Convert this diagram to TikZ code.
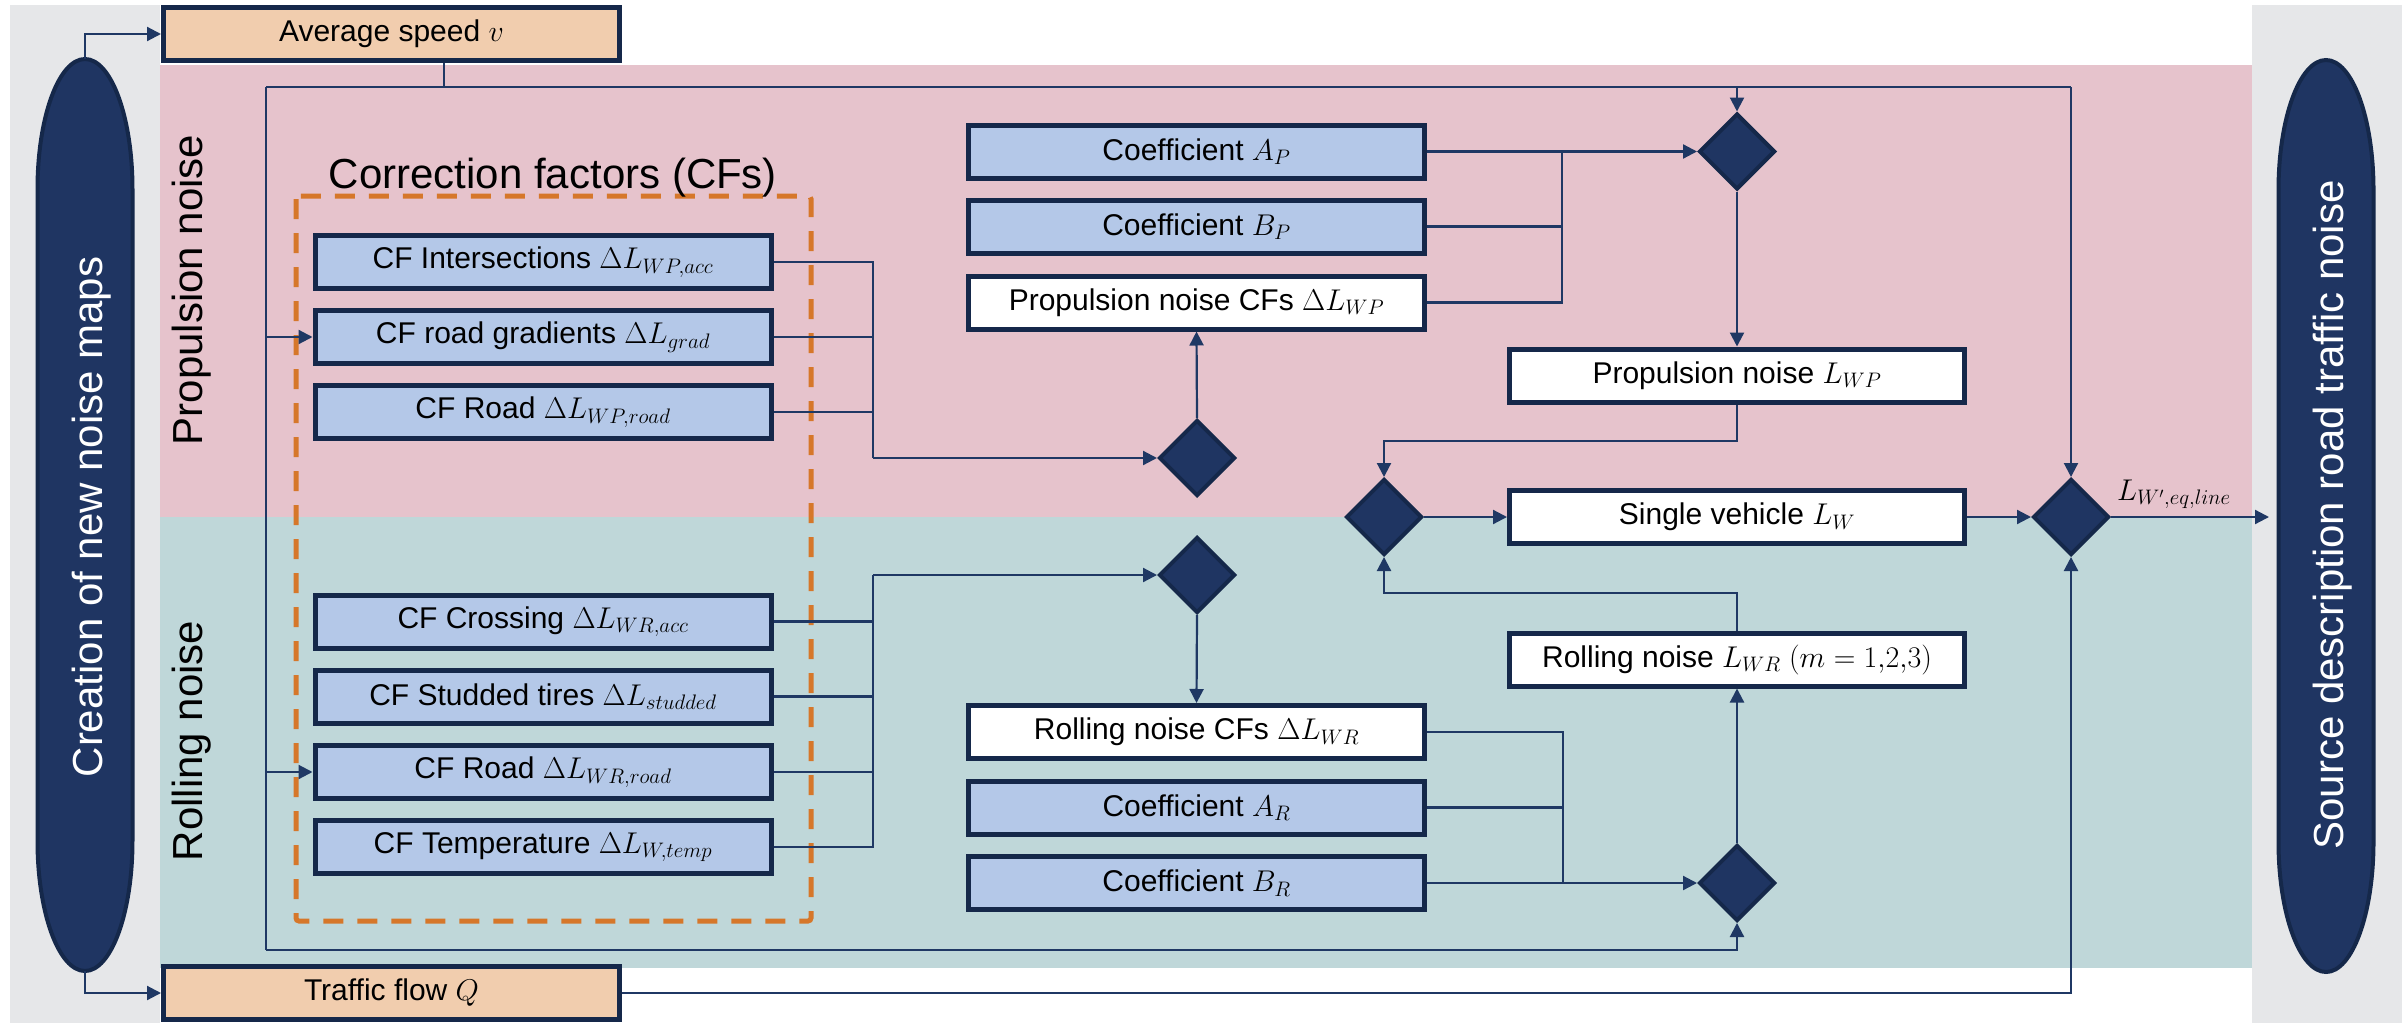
\RequirePackage{fix-cm}
\documentclass[tikz,border=0pt]{standalone}
\usepackage{fontspec}
\setmainfont{Liberation Sans}
\usetikzlibrary{shapes.geometric,arrows.meta}
\definecolor{pinkbg}{HTML}{E6C3CC}
\definecolor{tealbg}{HTML}{BFD7D9}
\definecolor{graybg}{HTML}{E6E7E9}
\definecolor{navy}{HTML}{1F3562}
\definecolor{boxborder}{HTML}{15284A}
\definecolor{lblue}{HTML}{B4C8E8}
\definecolor{peach}{HTML}{F1CDAE}
\definecolor{orangedash}{HTML}{D6772A}
\definecolor{lineblue}{HTML}{1F3864}
\begin{document}
\begin{tikzpicture}[x=1pt,y=-1pt,
  box/.style={draw=boxborder, line width=5pt, minimum width=456pt, minimum height=53pt, inner sep=0pt, font=\fontsize{30}{36}\selectfont},
  bluebox/.style={box, fill=lblue},
  whitebox/.style={box, fill=white},
  peachbox/.style={box, fill=peach},
  dia/.style={diamond, draw=boxborder, line width=4pt, fill=navy, minimum width=76pt, minimum height=76pt, inner sep=0pt},
  conn/.style={draw=lineblue, line width=2.2pt},
  arr/.style={conn, -{Triangle[length=14pt,width=14pt]}},
  biglabel/.style={font=\fontsize{42}{50}\selectfont, rotate=90, anchor=base, inner sep=0pt},
  capsuleshape/.style={draw=boxborder, line width=4pt, fill=navy},
  capsulenode/.style={minimum width=95pt, minimum height=912pt, inner sep=0pt}
]
\useasboundingbox (0,0) rectangle (2407,1025);
\fill[white] (0,0) rectangle (2407,1025);
% backgrounds
\fill[graybg] (10,5) rectangle (160,1023);
\fill[graybg] (2252,5) rectangle (2402,1023);
\fill[pinkbg] (160,65) rectangle (2252,517);
\fill[tealbg] (160,517) rectangle (2252,968);

% capsules
\path[capsuleshape] (37.5,189) .. controls (37.5,117.2) and (58.8,59) .. (85,59)
  .. controls (111.2,59) and (132.5,117.2) .. (132.5,189) -- (132.5,841)
  .. controls (132.5,912.8) and (111.2,971) .. (85,971)
  .. controls (58.8,971) and (37.5,912.8) .. (37.5,841) -- cycle;
\path[capsuleshape] (2278.5,190) .. controls (2278.5,118.2) and (2299.8,60) .. (2326,60)
  .. controls (2352.2,60) and (2373.5,118.2) .. (2373.5,190) -- (2373.5,842)
  .. controls (2373.5,913.8) and (2352.2,972) .. (2326,972)
  .. controls (2299.8,972) and (2278.5,913.8) .. (2278.5,842) -- cycle;
\node[capsulenode] (elL) at (85,515) {};
\node[capsulenode] (elR) at (2326,516) {};
\node[biglabel, text=white] (lblL) at (102,517) {Creation of new noise maps};
\node[biglabel, text=white] (lblR) at (2343,515) {Source description road traffic noise};

% section labels
\node[biglabel] (lblP) at (202,290) {Propulsion noise};
\node[biglabel] (lblRl) at (202,741) {Rolling noise};

% correction factor frame
\draw[orangedash, line width=5pt, dash pattern=on 20pt off 14pt, rounded corners=3pt] (296,196) rectangle (811,921);
\node[font=\fontsize{42}{50}\selectfont, anchor=base, inner sep=0pt] (cftitle) at (553,188) {Correction factors (CFs)};

% input boxes
\node[peachbox] (speed) at (391.5,34) {Average speed $v$};
\node[peachbox] (flow) at (391.5,993) {Traffic flow $Q$};

% CF boxes
\node[bluebox] (cfint) at (543,262) {CF Intersections $\Delta L_{WP,acc}$};
\node[bluebox] (cfgrad) at (543,337) {CF road gradients $\Delta L_{grad}$};
\node[bluebox] (cfroadP) at (543,412) {CF Road $\Delta L_{WP,road}$};
\node[bluebox] (cfcross) at (543,621.5) {CF Crossing $\Delta L_{WR,acc}$};
\node[bluebox] (cfstud) at (543,696.5) {CF Studded tires $\Delta L_{studded}$};
\node[bluebox] (cfroadR) at (543,772) {CF Road $\Delta L_{WR,road}$};
\node[bluebox] (cftemp) at (543,847) {CF Temperature $\Delta L_{W,temp}$};

% coefficient boxes
\node[bluebox] (AP) at (1196.5,151.5) {Coefficient $A_P$};
\node[bluebox] (BP) at (1196.5,226.5) {Coefficient $B_P$};
\node[whitebox] (PNCF) at (1196.5,302.5) {Propulsion noise CFs $\Delta L_{WP}$};
\node[whitebox] (RNCF) at (1196.5,732) {Rolling noise CFs $\Delta L_{WR}$};
\node[bluebox] (AR) at (1196.5,807.5) {Coefficient $A_R$};
\node[bluebox] (BR) at (1196.5,883) {Coefficient $B_R$};

% result boxes
\node[whitebox, minimum width=455pt] (LWP) at (1737,375.5) {Propulsion noise $L_{WP}$};
\node[whitebox, minimum width=455pt] (single) at (1737,517) {Single vehicle $L_W$};
\node[whitebox, minimum width=455pt] (LWR) at (1737,659.5) {Rolling noise $L_{WR}$ $(m=1{,}2{,}3)$};

% diamonds
\node[dia] (dP1) at (1737,151.5) {};
\node[dia] (dCFP) at (1197,458) {};
\node[dia] (dJ) at (1384,517) {};
\node[dia] (dCFR) at (1197,575) {};
\node[dia] (dR) at (1737,883) {};
\node[dia] (dF) at (2071,517) {};

% helper coordinates
\coordinate (tL) at (266,87);
\coordinate (tS) at (444,87);
\coordinate (tP) at (1737,87);
\coordinate (tF) at (2071,87);
\coordinate (bL) at (266,950);
\coordinate (mCP) at (873,458);
\coordinate (mCR) at (873,575);
\coordinate (mP) at (1562,151.5);
\coordinate (mR) at (1563,883);
\coordinate (jP) at (1737,441);
\coordinate (jR) at (1737,593);
\coordinate (outp) at (2269,517);

% connectors
\draw[arr] (elL.north) |- (speed.west);
\draw[arr] (elL.south) |- (flow.west);
\draw[conn] (tS |- speed.south) -- (tS);
\draw[conn] (tL) -- (tF);
\draw[conn] (tL) -- (bL);
\draw[arr] (tL |- cfgrad.west) -- (cfgrad.west);
\draw[arr] (tL |- cfroadR.west) -- (cfroadR.west);
\draw[arr] (tP) -- (dP1.north);
\draw[arr] (tF) -- (dF.north);
\draw[arr] (bL) -| (dR.south);
\draw[arr] (flow.east) -| (dF.south);

\draw[conn] (cfint.east) -| (mCP);
\draw[conn] (cfgrad.east) -| (mCP);
\draw[conn] (cfroadP.east) -| (mCP);
\draw[arr] (mCP) -- (dCFP.west);
\draw[arr] (dCFP.north) -- (PNCF.south);

\draw[conn] (cfcross.east) -| (mCR);
\draw[conn] (cfstud.east) -| (mCR);
\draw[conn] (cfroadR.east) -| (mCR);
\draw[conn] (cftemp.east) -| (mCR);
\draw[arr] (mCR) -- (dCFR.west);
\draw[arr] (dCFR.south) -- (RNCF.north);

\draw[arr] (AP.east) -- (dP1.west);
\draw[conn] (BP.east) -| (mP);
\draw[conn] (PNCF.east) -| (mP);
\draw[arr] (dP1.south) -- (LWP.north);

\draw[conn] (RNCF.east) -| (mR);
\draw[conn] (AR.east) -| (mR);
\draw[arr] (BR.east) -- (dR.west);
\draw[arr] (dR.north) -- (LWR.south);

\draw[arr] (LWP.south) -- (jP) -| (dJ.north);
\draw[arr] (LWR.north) -- (jR) -| (dJ.south);
\draw[arr] (dJ.east) -- (single.west);
\draw[arr] (single.east) -- (dF.west);
\draw[arr] (dF.east) -- (outp);
\node[font=\fontsize{30}{36}\selectfont, anchor=base west, inner sep=0pt] (outlbl) at (2117,500) {$L_{W',eq,line}$};
\end{tikzpicture}
\end{document}
